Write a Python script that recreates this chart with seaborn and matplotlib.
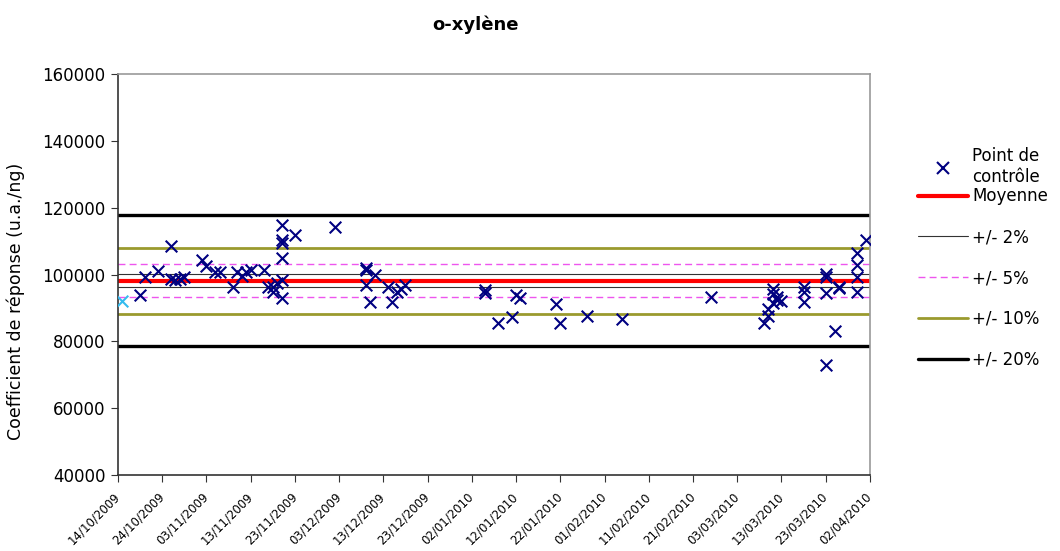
import matplotlib
matplotlib.use("Agg")
import matplotlib.pyplot as plt
from matplotlib.lines import Line2D
import seaborn as sns
import pandas as pd

# ---------------- data ----------------
title = "o-xylène"
ylabel = "Coefficient de réponse (u.a./ng)"

first_date = ["2009-10-15"]
first_value = [92000]

dates = [
    "2009-10-19", "2009-10-20", "2009-10-23", "2009-10-26", "2009-10-26",
    "2009-10-27", "2009-10-28", "2009-10-29", "2009-11-02", "2009-11-03",
    "2009-11-05", "2009-11-06", "2009-11-09", "2009-11-10", "2009-11-11",
    "2009-11-12", "2009-11-13", "2009-11-16", "2009-11-17", "2009-11-18",
    "2009-11-18", "2009-11-19", "2009-11-20", "2009-11-20", "2009-11-20",
    "2009-11-20", "2009-11-20", "2009-11-20", "2009-11-23", "2009-12-02",
    "2009-12-09", "2009-12-09", "2009-12-09", "2009-12-10", "2009-12-11",
    "2009-12-14", "2009-12-15", "2009-12-16", "2009-12-17", "2009-12-18",
    "2010-01-05", "2010-01-05", "2010-01-08", "2010-01-11", "2010-01-12",
    "2010-01-13", "2010-01-21", "2010-01-22", "2010-01-28", "2010-02-05",
    "2010-02-25", "2010-03-09", "2010-03-10", "2010-03-10", "2010-03-11",
    "2010-03-11", "2010-03-11", "2010-03-12", "2010-03-12", "2010-03-13",
    "2010-03-18", "2010-03-18", "2010-03-18", "2010-03-23", "2010-03-23",
    "2010-03-23", "2010-03-23", "2010-03-25", "2010-03-26", "2010-03-26",
    "2010-03-30", "2010-03-30", "2010-03-30", "2010-03-30", "2010-04-01",
]
values = [
    94000, 99300, 101100, 108500, 98800,
    98500, 98700, 99300, 104300, 102500,
    100800, 100800, 96300, 100800, 99500,
    100800, 101300, 101300, 96200, 96300,
    94800, 97400, 114800, 110200, 109500,
    104800, 98500, 92900, 111800, 114300,
    101900, 101300, 96900, 91700, 99800,
    96300, 91800, 94800, 95800, 97000,
    95500, 94500, 85600, 87400, 94000,
    93000, 91200, 85400, 87600, 86600,
    93300, 85500, 87600, 89600, 95800,
    94200, 91400, 93300, 92300, 92000,
    96300, 94800, 91900, 100300, 99300,
    94400, 72900, 83100, 95900, 96300,
    106300, 102800, 99300, 94800, 110300,
]

mean_value = 98100
bands = [0.02, 0.05, 0.10, 0.20]
band_labels = ["+/- 2%", "+/- 5%", "+/- 10%", "+/- 20%"]
point_label = "Point de\ncontrôle"
mean_label = "Moyenne"

x_start = "2009-10-14"
x_end = "2010-04-02"
yticks = [40000, 60000, 80000, 100000, 120000, 140000, 160000]

# ---------------- styling ----------------
sns.set_style("white")
plt.rcParams['font.family'] = ['DejaVu Sans']
for k in ("text.color", "axes.labelcolor", "xtick.color", "ytick.color"):
    plt.rcParams[k] = "black"

df = pd.DataFrame({"date": pd.to_datetime(dates), "value": values})
df0 = pd.DataFrame({"date": pd.to_datetime(first_date), "value": first_value})

fig = plt.figure(figsize=(10.6, 5.51), dpi=100)
ax = fig.add_axes([0.1113, 0.1379, 0.7094, 0.7278])

point_color = "#000080"
red = "#ff0000"
olive = "#9a9a2e"
magenta = "#ee55ee"

styles = {
    0.02: dict(color="#333333", lw=0.8, ls="-"),
    0.05: dict(color=magenta, lw=1.0, ls=(0, (5, 3))),
    0.10: dict(color=olive, lw=2.0, ls="-"),
    0.20: dict(color="black", lw=2.4, ls="-"),
}
for b in bands:
    for s in (1, -1):
        ax.axhline(mean_value * (1 + s * b), zorder=1, **styles[b])
ax.axhline(mean_value, color=red, lw=3.0, zorder=1)

sns.scatterplot(data=df, x="date", y="value", marker="x", color=point_color,
                s=70, linewidth=1.5, ax=ax, zorder=3, legend=False)
sns.scatterplot(data=df0, x="date", y="value", marker="x", color="#33bbee",
                s=70, linewidth=1.5, ax=ax, zorder=3, legend=False)

ax.set_xlim(pd.Timestamp(x_start), pd.Timestamp(x_end))
ax.set_ylim(40000, 160000)
ax.set_yticks(yticks)
ax.set_yticklabels([str(v) for v in yticks], fontsize=12)

xt = pd.date_range(x_start, x_end, freq="10D")
ax.set_xticks(xt)
ax.set_xticklabels([d.strftime("%d/%m/%Y") for d in xt], rotation=45,
                   ha="right", va="center", rotation_mode="anchor", fontsize=8.5)
ax.tick_params(axis="y", which="major", direction="out", length=5,
               width=0.8, color="#333333", left=True, pad=4)
ax.tick_params(axis="x", which="major", direction="out", length=5,
               width=0.8, color="#333333", bottom=True, pad=9)

for name, sp in ax.spines.items():
    sp.set_linewidth(1.2)
    sp.set_color("#333333" if name in ("left", "bottom") else "#999999")

ax.set_xlabel("")
ax.set_ylabel(ylabel, fontsize=12.5)
ax.yaxis.set_label_coords(-0.124, 0.433)
fig.text(0.449, 0.955, title, ha="center", va="center", fontsize=13,
         fontweight="bold")

# legends
h_point = [Line2D([], [], ls="none", marker="x", color=point_color,
                  markersize=8, markeredgewidth=1.5)]
h_lines = [Line2D([], [], color=red, lw=3.0)] + [Line2D([], [], **styles[b]) for b in bands]

leg1 = fig.legend(h_point, [point_label], loc="upper left",
                  bbox_to_anchor=(0.860, 0.745), frameon=False, fontsize=12,
                  handlelength=3.0, handletextpad=0.25, borderaxespad=0)
leg2 = fig.legend(h_lines, [mean_label] + band_labels, loc="upper left",
                  bbox_to_anchor=(0.860, 0.672), frameon=False, fontsize=12,
                  handlelength=3.0, handletextpad=0.25, labelspacing=1.37,
                  borderaxespad=0)

fig.savefig("out.png", dpi=100)
